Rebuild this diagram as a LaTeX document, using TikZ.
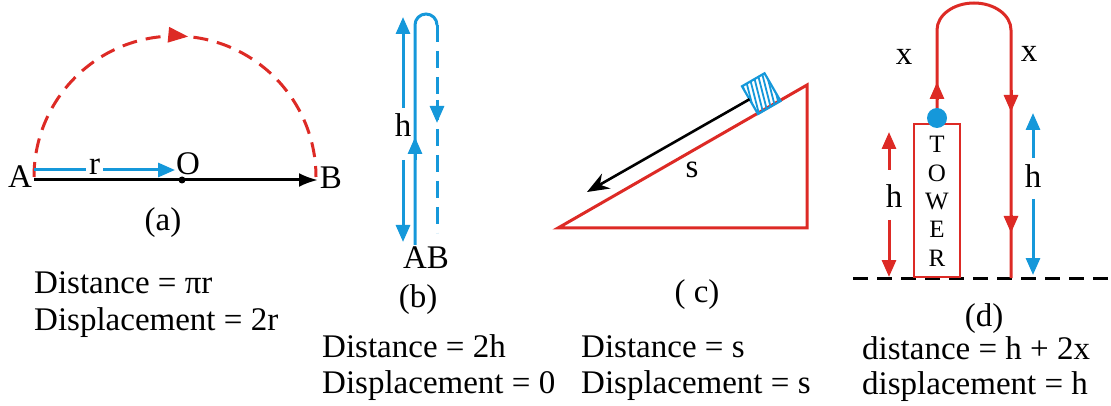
\documentclass[tikz,border=0pt]{standalone}
\usepackage{fontspec}
\setmainfont{Liberation Serif}
\usetikzlibrary{positioning,arrows.meta,decorations.markings}
\definecolor{pathRed}{HTML}{DD2A25}
\definecolor{pathBlue}{HTML}{1598DA}
\newcommand{\labelsize}{\fontsize{33}{38}\selectfont}
\newcommand{\towersize}{\fontsize{25}{28}\selectfont}

\begin{document}
\begin{tikzpicture}[x=1pt, y=-1pt,
    every node/.style={font=\labelsize, inner sep=0pt, text=black},
    thickline/.style={line width=3pt},
    tipfill/.style={-{Triangle[length=17pt,width=14pt]}},
    dashline/.style={dash pattern=on 15pt off 9pt},
    caption/.style={anchor=base west}]
  \useasboundingbox (0,0) rectangle (1111,406);
  % (a) semicircle
  \coordinate (A) at (34,180);
  \coordinate (B) at (318,180);
  \coordinate (O) at (182,180);
  \draw[thickline, pathRed, dashline, postaction={decorate},
    decoration={markings, mark=at position 0.53 with {\arrow{Triangle[length=20pt,width=15pt]}}}]
    (34,177) arc[start angle=180, end angle=360, radius=141];
  \draw[thickline, -{Latex[length=19pt,width=14pt]}] (A) -- (B);
  \fill (O) circle (3.5);
  \draw[thickline, pathBlue, tipfill] (34,170) -- (175,170)
    node[pos=0.43, fill=white, inner xsep=3pt, yshift=3pt] (labelR) {r};
  \node[anchor=base] (labelA) at (20,188) {A};
  \node[anchor=base] (labelB) at (331,189) {B};
  \node[anchor=base] (labelO) at (188,175) {O};
  \node[anchor=base] (capA) at (163,230) {(a)};
  \node[caption] (distA) at (34,293) {Distance = π{}r};
  \node[caption] (dispA) at (34,330) {Displacement = 2r};
  % (b) thrown up and back
  \draw[thickline, pathBlue, tipfill] (403,108) -- (403,17);
  \draw[thickline, pathBlue, tipfill] (403,160) -- (403,242);
  \node[anchor=base] (labelH) at (403,137) {h};
  \draw[thickline, pathBlue] (415,245) -- (415,25) arc[start angle=180, end angle=360, radius=11];
  \draw[thickline, pathBlue, dash pattern=on 17pt off 9pt] (437,25) -- (437,233);
  \draw[thickline, pathBlue, tipfill] (415,160) -- (415,137);
  \draw[thickline, pathBlue, tipfill] (437,100) -- (437,123);
  \node[anchor=base] (labelAB) at (426,269) {AB};
  \node[anchor=base] (capB) at (418,307) {(b)};
  \node[caption] (distB) at (322,357) {Distance = 2h};
  \node[caption] (dispB) at (322,393) {Displacement = 0};
  % (c) incline
  \draw[thickline, pathRed] (558,228) -- (807,228) -- (807,85) -- cycle;
  \begin{scope}[shift={(758,114)}, rotate=30]
    \begin{scope}
      \clip (0,0) rectangle (26,-32);
      \foreach \u in {-8,-3.5,...,26}
        \draw[pathBlue, line width=1.8pt] (\u,0) -- (\u+9,-32);
    \end{scope}
    \draw[pathBlue, line width=2.2pt] (0,0) rectangle (26,-32);
    \coordinate (blockL) at (0,-17);
  \end{scope}
  \coordinate (slideEnd) at (587,192);
  \draw[line width=2.6pt, -{Stealth[length=22pt,width=17pt]}] (blockL) -- (slideEnd);
  \node[anchor=base] (labelS) at (692,178) {s};
  \node[anchor=base] (capC) at (697,302) {( c)};
  \node[caption] (distC) at (581,357) {Distance = s};
  \node[caption] (dispC) at (581,393) {Displacement = s};
  % (d) tower
  \draw[thickline, dashline] (853,278) -- (1111,278);
  \draw[line width=2.5pt, pathRed] (914,124) rectangle (960,277);
  \foreach \letter [count=\i] in {T,O,W,E,R}
    \node[anchor=base, font=\towersize] at (937,124.7+28.3*\i) {\letter};
  \draw[thickline, pathRed] (937,110) -- (937,30)
    arc[start angle=180, end angle=360, x radius=37, y radius=27] -- (1011,278);
  \fill[pathBlue] (937,118) circle (10);
  \draw[thickline, pathRed, tipfill] (937,100) -- (937,82);
  \draw[thickline, pathRed, tipfill] (1011,90) -- (1011,112);
  \draw[thickline, pathRed, tipfill] (1011,215) -- (1011,233);
  \draw[thickline, pathRed, tipfill] (889,170) -- (889,132);
  \draw[thickline, pathRed, tipfill] (889,220) -- (889,277);
  \node[anchor=base] (labelHl) at (894,208) {h};
  \draw[thickline, pathBlue, tipfill] (1033,158) -- (1033,113);
  \draw[thickline, pathBlue, tipfill] (1033,199) -- (1033,275);
  \node[anchor=base] (labelHr) at (1033,188) {h};
  \node[anchor=base] (labelXl) at (904,65) {x};
  \node[anchor=base] (labelXr) at (1029,62) {x};
  \node[anchor=base] (capD) at (984,326) {(d)};
  \node[caption] (distD) at (862,359) {distance = h + 2x};
  \node[caption] (dispD) at (862,394) {displacement = h};
\end{tikzpicture}
\end{document}
